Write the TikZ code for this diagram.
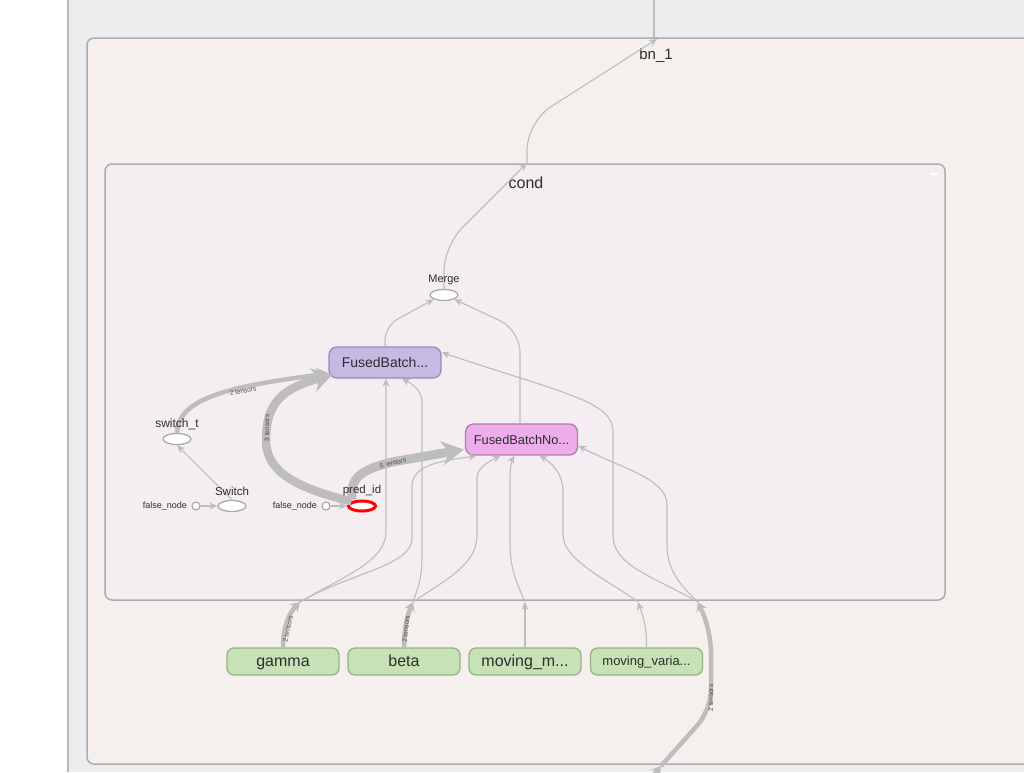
\documentclass[tikz,border=0pt]{standalone}
\usepackage{fontspec}
\setmainfont{Liberation Sans}
\usetikzlibrary{arrows.meta,shapes.geometric}
\definecolor{edgec}{HTML}{BDBDBD}
\definecolor{bgc}{HTML}{EDEDEF}
\definecolor{leftline}{HTML}{B8B8B8}
\definecolor{bnfill}{HTML}{F5F0EE}
\definecolor{condfill}{HTML}{F4EEF2}
\definecolor{boxdraw}{HTML}{ADABAB}
\definecolor{fbfill}{HTML}{C6B9E2}
\definecolor{fbdraw}{HTML}{9A88BE}
\definecolor{fbnfill}{HTML}{EDACEB}
\definecolor{fbndraw}{HTML}{B57AB3}
\definecolor{varfill}{HTML}{C7E2B6}
\definecolor{vardraw}{HTML}{95B386}
\definecolor{txt}{HTML}{2E2E2E}
\definecolor{elltxt}{HTML}{4A4A4A}
\tikzset{
  groupbox/.style={draw=boxdraw, line width=1.5pt, rounded corners=7pt},
  opbox/.style={rectangle, rounded corners=8pt, line width=1.3pt, minimum width=112pt, minimum height=31pt, inner sep=0pt, text=txt},
  varbox/.style={rectangle, rounded corners=7pt, line width=1.3pt, fill=varfill, draw=vardraw, minimum width=112pt, minimum height=27pt, inner sep=0pt, text=txt, text height=11pt, text depth=2pt},
  ell/.style={ellipse, draw=edgec!90!black, fill=white, line width=1.3pt, minimum width=28pt, minimum height=11pt, inner sep=0pt},
  smallc/.style={circle, draw=edgec!90!black, fill=white, line width=1.2pt, minimum size=8pt, inner sep=0pt},
  lbl/.style={text=txt, inner sep=0pt},
  edge/.style={draw=edgec, line width=1.1pt, -{Stealth[length=8pt,width=7pt]}},
  plainedge/.style={draw=edgec, line width=1.1pt},
  t2/.style={draw=edgec, line width=4.5pt, -{Stealth[length=9pt,width=11pt]}},
  tbig/.style={draw=edgec, line width=8.5pt, -{Stealth[length=20pt,width=24pt]}},
  elbl/.style={text=elltxt, font=\fontsize{6.5}{6.5}\selectfont, inner sep=0pt},
}
\begin{document}
\begin{tikzpicture}[x=1pt,y=-1pt]
\clip (0,0) rectangle (1024,772);
\useasboundingbox (0,0) rectangle (1024,772);
\fill[white] (0,0) rectangle (68,772);
\fill[bgc] (68,0) rectangle (1024,772);
\draw[leftline, line width=1.6pt] (68,0) -- (68,772);
% groups
\draw[groupbox, fill=bnfill] (87,38) rectangle (1040,764);
\node[lbl, font=\fontsize{15}{15}\selectfont] (bnlabel) at (656,56) {bn\_1};
\draw[groupbox, fill=condfill] (105,164) rectangle (945,600);
\node[lbl, font=\fontsize{16}{16}\selectfont] (condlabel) at (526,183) {cond};
\draw[white, line width=1.6pt] (930,174) -- (938,174);
% coordinates
\coordinate (topout) at (654,0);
\coordinate (bnexit) at (654,38);
\coordinate (bntop) at (657,39);
\coordinate (condtop) at (527,163);
\coordinate (gsplit) at (300,602);
\coordinate (bsplit) at (413,602);
\coordinate (msplit) at (525,602);
\coordinate (vsplit) at (638,602);
\coordinate (xsplit) at (698,602);
\coordinate (xbottom) at (650,780);
\coordinate (xin) at (661,766);
% op nodes
\node[opbox, fill=fbfill, draw=fbdraw, font=\fontsize{14}{14}\selectfont] (FB) at (385,362.5) {FusedBatch...};
\node[opbox, fill=fbnfill, draw=fbndraw, font=\fontsize{12.8}{12.8}\selectfont] (FBN) at (521.5,439.5) {FusedBatchNo...};
\node[ell] (merge) at (444,295) {};
\node[ell] (switcht) at (177,439) {};
\node[ell] (switch) at (232,506) {};
\node[ell, draw=red, line width=3pt, minimum width=27pt, minimum height=10pt] (predid) at (362,506) {};
\node[smallc] (fn1) at (196,506) {};
\node[smallc] (fn2) at (326,506) {};
% variables
\node[varbox, font=\fontsize{16}{16}\selectfont] (gamma) at (283,661.5) {gamma};
\node[varbox, font=\fontsize{16}{16}\selectfont] (beta) at (404,661.5) {beta};
\node[varbox, font=\fontsize{16}{16}\selectfont] (movm) at (525,661.5) {moving\_m...};
\node[varbox, font=\fontsize{13}{13}\selectfont, text height=9pt] (movv) at (646.5,661.5) {moving\_varia...};
% edges top
\draw[plainedge] (topout) -- (bnexit);
\draw[edge, rounded corners=28pt] (condtop) -- (527,122) -- (bntop);
\draw[edge, rounded corners=25pt] (merge.north) -- (444,246) -- (condtop);
\draw[edge, rounded corners=14pt] (FB.north) -- (385,326) -- (merge.south west);
\draw[edge, rounded corners=22pt] (FBN.north -| 520,0) -- (520,330) -- (merge.south east);
% small ops
\draw[edge] (fn1.east) -- (switch.west);
\draw[edge] (fn2.east) -- (predid.west);
\draw[edge] (switch.north) -- (switcht.south);
% thick edges in cond
\draw[t2, -{Stealth[length=13pt,width=15pt]}] (switcht.north) .. controls (178,398) and (230,386) .. ([shift={(1,11)}]FB.west);
\node[elbl, rotate=11] (l2t) at (243,391) {2 tensors};
\draw[tbig] (predid.north west) .. controls (292,487) and (266,470) .. (266,440) .. controls (266,400) and (285,388) .. ([shift={(4,12)}]FB.west);
\node[elbl, rotate=90] (l3t) at (267,428) {3 tensors};
\draw[tbig, line width=9pt, -{Stealth[length=22pt,width=24pt]}] ([xshift=-10pt]predid.north) .. controls (350,478) and (360,470) .. (392,462) -- ([shift={(-1,10)}]FBN.west);
\node[elbl, rotate=13] (l5t) at (393,463) {5 tensors};
% thin edges into FB
\draw[edge] (gsplit) .. controls (340,578) and (386,562) .. (386,532) -- ([xshift=1pt]FB.south);
\draw[edge] (bsplit) .. controls (418,588) and (422,578) .. (422,556) -- (422,402) .. controls (422,390) and (412,384) .. ([xshift=17pt]FB.south);
\draw[edge] (xsplit) .. controls (650,575) and (613,565) .. (613,535) -- (613,432) .. controls (613,402) and (570,395) .. ([yshift=10pt]FB.east);
% thin edges into FBN
\draw[edge] (gsplit) .. controls (352,572) and (412,566) .. (412,538) -- (412,486) .. controls (412,462) and (452,460) .. ([xshift=-45pt]FBN.south);
\draw[edge] (bsplit) .. controls (445,580) and (477,565) .. (477,535) -- (477,478) .. controls (477,467) and (490,461) .. ([xshift=-21pt]FBN.south);
\draw[edge] (msplit) .. controls (518,585) and (510,570) .. (510,545) -- (510,478) .. controls (510,466) and (512,460) .. ([xshift=-7pt]FBN.south);
\draw[edge] (vsplit) .. controls (608,580) and (563,560) .. (563,535) -- (563,492) .. controls (563,472) and (550,462) .. ([xshift=18pt]FBN.south);
\draw[edge] (xsplit) .. controls (680,585) and (667,570) .. (667,545) -- (667,505) .. controls (667,478) and (620,468) .. ([yshift=10pt]FBN.south east);
% edges from variables
\draw[t2] (gamma.north -| 283,0) .. controls (283,625) and (290,612) .. (gsplit);
\node[elbl, rotate=78] (lg) at (288,629) {2 tensors};
\draw[t2] (beta.north -| 404,0) .. controls (404,625) and (408,614) .. (bsplit);
\node[elbl, rotate=84] (lb) at (406,629) {2 tensors};
\draw[edge] (movm.north) -- (msplit);
\draw[edge] (movv.north) .. controls (647,625) and (642,614) .. (vsplit);
\draw[t2] (xbottom) -- (xin);
\draw[t2, rounded corners=20pt] (xin) -- (711,710) -- (711,632) -- (xsplit);
\node[elbl, rotate=90] (lx) at (711,698) {2 tensors};
% op labels
\node[lbl, font=\fontsize{11}{11}\selectfont] (mergel) at (444,280) {Merge};
\node[lbl, font=\fontsize{12}{12}\selectfont] (switchtl) at (177,424) {switch\_t};
\node[lbl, font=\fontsize{11.5}{11.5}\selectfont] (switchl) at (232,491) {Switch};
\node[lbl, font=\fontsize{11.5}{11.5}\selectfont] (predidl) at (362,491) {pred\_id};
\node[lbl, font=\fontsize{9}{9}\selectfont, anchor=east] (fn1l) at (187,506) {false\_node};
\node[lbl, font=\fontsize{9}{9}\selectfont, anchor=east] (fn2l) at (317,506) {false\_node};
\end{tikzpicture}
\end{document}
